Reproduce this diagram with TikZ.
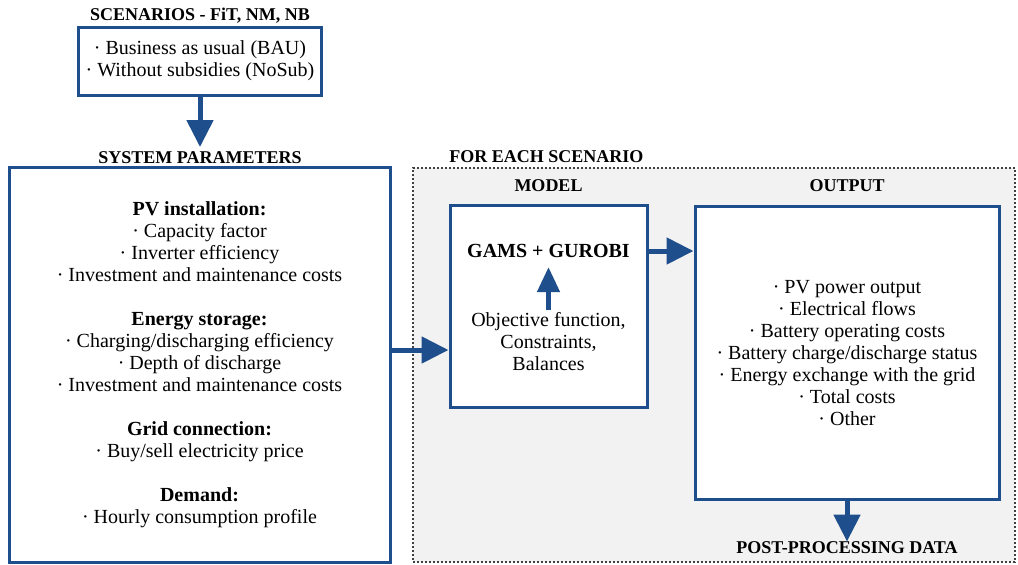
\documentclass[tikz,border=0pt]{standalone}
\usepackage{fontspec}
\setmainfont{Liberation Serif}
\usetikzlibrary{arrows.meta,positioning}
\definecolor{flowblue}{RGB}{31,78,140}
\definecolor{panelgray}{RGB}{242,242,242}
\tikzset{
    blue-box/.style = {draw=flowblue, fill=white, line width=1.5pt, rectangle, inner sep=0pt, align=center, font=\fontsize{10}{11}\selectfont},
    box-title/.style = {font=\bfseries\fontsize{9}{10}\selectfont, inner sep=0pt},
    plain-text/.style = {align=center, inner sep=0pt, font=\fontsize{10}{11}\selectfont},
    scenario-panel/.style = {draw=black!75, fill=panelgray, line width=1.1pt, dash pattern=on 1pt off 1pt, rectangle, inner sep=0pt},
    flow-arrow/.style = {draw=flowblue, line width=2.5pt, -{Triangle[width=13pt,length=13.5pt]}},
    small-arrow/.style = {draw=flowblue, line width=2.4pt, -{Triangle[width=11pt,length=12.5pt]}},
}

\begin{document}
\begin{tikzpicture}[x=0.5pt,y=-0.5pt]
\useasboundingbox (0,0) rectangle (1018,564);
% scenarios and system parameters
\node [blue-box, minimum width=121.5pt, minimum height=34pt] (scen) at (200,61) {· Business as usual (BAU)\\ · Without subsidies (NoSub)};
\node [box-title] (scen-title) at (200,16) {SCENARIOS - FiT, NM, NB};
\node [blue-box, minimum width=190.5pt, minimum height=197.5pt] (sys) at (199.5,364.5) {\textbf{PV installation:}\\
    · Capacity factor\\
    · Inverter efficiency\\
    · Investment and maintenance costs\\[11pt]
    \textbf{Energy storage:}\\
    · Charging/discharging efficiency\\
    · Depth of discharge\\
    · Investment and maintenance costs\\[11pt]
    \textbf{Grid connection:}\\
    · Buy/sell electricity price\\[11pt]
    \textbf{Demand:}\\
    · Hourly consumption profile};
\node [box-title] (sys-title) at (200,158) {SYSTEM PARAMETERS};
\coordinate (sys-in) at (200,147);
\draw [flow-arrow] (scen) -- (sys-in);

% for each scenario
\node [scenario-panel, minimum width=301pt, minimum height=197pt] (panel) at (714,365) {};
\node [box-title, anchor=west] (panel-title) at (449,157) {FOR EACH SCENARIO};
\node [blue-box, minimum width=98.5pt, minimum height=101pt] (model) at (548.5,306) {};
\node [box-title] (model-title) at (548.5,186) {MODEL};
\node [plain-text, font=\bfseries\fontsize{10}{11}\selectfont] (solver) at (548.5,251) {GAMS + GUROBI};
\node [plain-text] (eqs) at (548.5,342) {Objective function,\\ Constraints,\\ Balances};
\draw [small-arrow, shorten >=4.5pt, shorten <=1pt] (eqs) -- (solver);

\node [blue-box, minimum width=152pt, minimum height=146.5pt] (out) at (847,353) {· PV power output\\
    · Electrical flows\\
    · Battery operating costs\\
    · Battery charge/discharge status\\
    · Energy exchange with the grid\\
    · Total costs\\
    · Other};
\node [box-title] (out-title) at (847,186) {OUTPUT};
\node [box-title] (post-title) at (847,548) {POST-PROCESSING DATA};

\coordinate (feed) at (400,350);
\draw [flow-arrow] (sys.east |- feed) -- (model.west |- feed);
\draw [flow-arrow] (solver -| model.east) -- (solver -| out.west);
\draw [flow-arrow] (out) -- (post-title);
\end{tikzpicture}
\end{document}
